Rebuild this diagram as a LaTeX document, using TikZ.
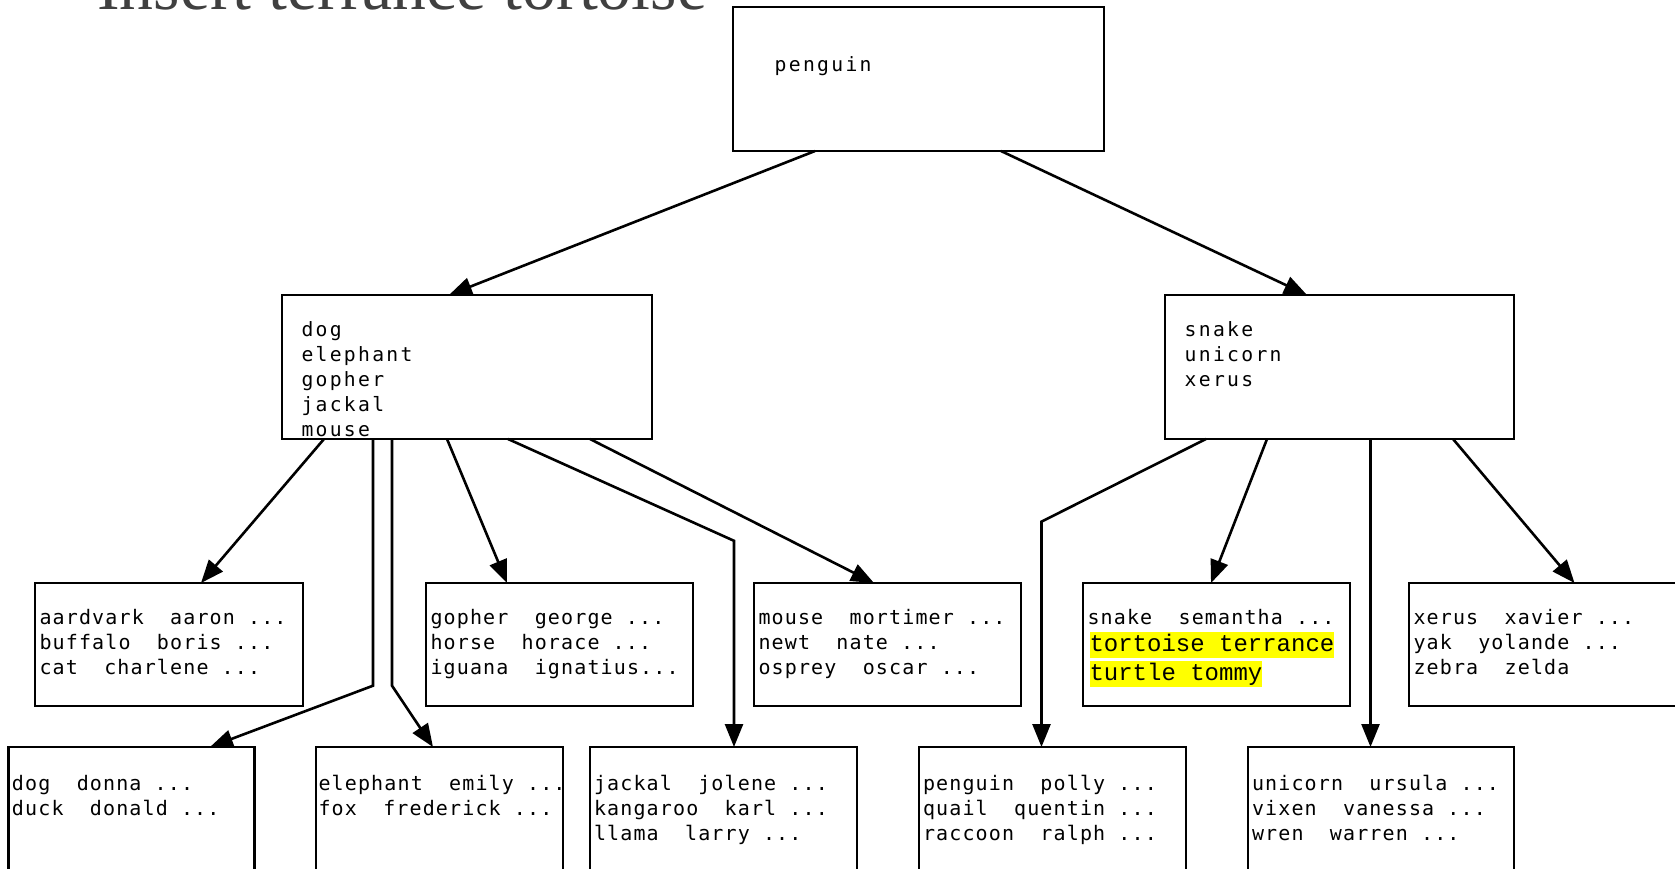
\documentclass[tikz,border=0pt]{standalone}
\usepackage{fontspec}
\usetikzlibrary{arrows.meta}

% Fonts: serif heading, letter-spaced sans mono for keys, Courier-like mono for the new entries
\newfontfamily\headfont{Liberation Serif}
\newfontfamily\innerkeyfont[LetterSpace=11.7]{DejaVu Sans Mono}
\newfontfamily\leafkeyfont[LetterSpace=5.7]{DejaVu Sans Mono}
\newfontfamily\markfont{Liberation Mono}

\definecolor{markyellow}{RGB}{255,255,0}
\definecolor{headgray}{RGB}{64,64,64}

% one empty character cell of the leaf font
\newcommand\onecell{\hspace*{13.18pt}}
% a left-aligned column of lines whose baseline is the first line
\newcommand\keylist[1]{\begin{tabular}[t]{@{}l@{}}#1\end{tabular}}
% a highlighted entry
\newcommand\marked[1]{\hspace*{2pt}{\setlength\fboxsep{0pt}\colorbox{markyellow}{\markfont\fontsize{24}{26}\selectfont\rule[-6.6pt]{0pt}{26pt}#1}}}

\tikzset{
  keybox/.style={draw, line width=2.6pt, anchor=north west, inner sep=0pt, outer sep=0pt},
  innertext/.style={anchor=base west, inner sep=0pt, outer sep=0pt,
    font=\innerkeyfont\fontsize{19.7}{25}\selectfont},
  leaftext/.style={anchor=base west, inner sep=0pt, outer sep=0pt,
    font=\leafkeyfont\fontsize{20}{25}\selectfont},
  link/.style={line width=2.6pt, line join=miter, -{Triangle[length=23pt,width=18pt]}},
}

\begin{document}
\begin{tikzpicture}[x=1pt, y=-1pt]
  \useasboundingbox (0,0) rectangle (1675,868);
  \clip (0,0) rectangle (1675,868);

  % heading
  \node[anchor=base west, inner sep=0pt, text=headgray,
        font=\headfont\fontsize{67.8}{70}\selectfont] (heading) at (97,9) {Insert terrance tortoise};

  % root and inner nodes
  \node[keybox, minimum width=371pt, minimum height=144pt] (root) at (733,7) {};
  \node[keybox, minimum width=370pt, minimum height=144pt] (ml) at (282,295) {};
  \node[keybox, minimum width=349pt, minimum height=144pt] (mr) at (1165,295) {};

  % leaves, upper row
  \node[keybox, minimum width=268pt, minimum height=123pt] (A) at (35,583) {};
  \node[keybox, minimum width=267pt, minimum height=123pt] (G) at (426,583) {};
  \node[keybox, minimum width=267pt, minimum height=123pt] (M) at (754,583) {};
  \node[keybox, minimum width=267pt, minimum height=123pt] (S) at (1083,583) {};
  \node[keybox, minimum width=300pt, minimum height=123pt] (X) at (1409,583) {};

  % leaves, lower row
  \node[keybox, minimum width=246pt, minimum height=200pt] (D) at (8.5,747) {};
  \node[keybox, minimum width=247pt, minimum height=200pt] (E) at (316,747) {};
  \node[keybox, minimum width=267pt, minimum height=200pt] (J) at (590,747) {};
  \node[keybox, minimum width=267pt, minimum height=200pt] (P) at (919,747) {};
  \node[keybox, minimum width=266pt, minimum height=200pt] (U) at (1248,747) {};

  % keys of root and inner nodes
  \node[innertext] (root-keys) at ([xshift=41.7pt,yshift=-64pt]root.north west) {\keylist{penguin}};
  \node[innertext] (ml-keys) at ([xshift=19.5pt,yshift=-41pt]ml.north west)
    {\keylist{dog\\elephant\\gopher\\jackal\\mouse}};
  \node[innertext] (mr-keys) at ([xshift=19.7pt,yshift=-41.5pt]mr.north west)
    {\keylist{snake\\unicorn\\xerus}};

  % leaf entries
  \node[leaftext] (A-keys) at ([xshift=4.5pt,yshift=-41.3pt]A.north west)
    {\keylist{aardvark\onecell\onecell aaron\onecell...\\buffalo\onecell\onecell boris\onecell...\\cat\onecell\onecell charlene\onecell...}};
  \node[leaftext] (G-keys) at ([xshift=4.5pt,yshift=-41.3pt]G.north west)
    {\keylist{gopher\onecell\onecell george\onecell...\\horse\onecell\onecell horace\onecell...\\iguana\onecell\onecell ignatius...}};
  \node[leaftext] (M-keys) at ([xshift=4.5pt,yshift=-41.3pt]M.north west)
    {\keylist{mouse\onecell\onecell mortimer\onecell...\\newt\onecell\onecell nate\onecell...\\osprey\onecell\onecell oscar\onecell...}};
  \node[leaftext] (S-keys) at ([xshift=4.5pt,yshift=-41.3pt]S.north west)
    {\keylist{snake\onecell\onecell semantha\onecell...\\\marked{tortoise terrance}\\[2.5pt]\marked{turtle tommy}}};
  \node[leaftext] (X-keys) at ([xshift=4.5pt,yshift=-41.3pt]X.north west)
    {\keylist{xerus\onecell\onecell xavier\onecell...\\yak\onecell\onecell yolande\onecell...\\zebra\onecell\onecell zelda}};

  \node[leaftext] (D-keys) at ([xshift=3.5pt,yshift=-43pt]D.north west)
    {\keylist{dog\onecell\onecell donna\onecell...\\duck\onecell\onecell donald\onecell...}};
  \node[leaftext] (E-keys) at ([xshift=2.5pt,yshift=-43pt]E.north west)
    {\keylist{elephant\onecell\onecell emily\onecell...\\fox\onecell\onecell frederick\onecell...}};
  \node[leaftext] (J-keys) at ([xshift=4pt,yshift=-43pt]J.north west)
    {\keylist{jackal\onecell\onecell jolene\onecell...\\kangaroo\onecell\onecell karl\onecell...\\llama\onecell\onecell larry\onecell...}};
  \node[leaftext] (P-keys) at ([xshift=4pt,yshift=-43pt]P.north west)
    {\keylist{penguin\onecell\onecell polly\onecell...\\quail\onecell\onecell quentin\onecell...\\raccoon\onecell\onecell ralph\onecell...}};
  \node[leaftext] (U-keys) at ([xshift=4pt,yshift=-43pt]U.north west)
    {\keylist{unicorn\onecell\onecell ursula\onecell...\\vixen\onecell\onecell vanessa\onecell...\\wren\onecell\onecell warren\onecell...}};

  % pointers from the root
  \draw[link] ([xshift=82pt]root.south west) -- ([xshift=167pt]ml.north west);
  \draw[link] ([xshift=268pt]root.south west) -- ([xshift=142pt]mr.north west);

  % pointers from the left inner node
  \draw[link] ([xshift=42pt]ml.south west) -- ([xshift=166pt]A.north west);
  \draw[link] ([xshift=91pt]ml.south west) -- ([xshift=91pt,yshift=-246.7pt]ml.south west)
              -- ([xshift=201.5pt]D.north west);
  \draw[link] ([xshift=110pt]ml.south west) -- ([xshift=110pt,yshift=-246.7pt]ml.south west)
              -- ([xshift=117pt]E.north west);
  \draw[link] ([xshift=165pt]ml.south west) -- ([xshift=81pt]G.north west);
  \draw[link] ([xshift=226pt]ml.south west) -- ([xshift=144pt,yshift=206.2pt]J.north west)
              -- ([xshift=144pt]J.north west);
  \draw[link] ([xshift=308pt]ml.south west) -- ([xshift=120pt]M.north west);

  % pointers from the right inner node
  \draw[link] ([xshift=41pt]mr.south west) -- ([xshift=122.5pt,yshift=225.4pt]P.north west)
              -- ([xshift=122.5pt]P.north west);
  \draw[link] ([xshift=102pt]mr.south west) -- ([xshift=128pt]S.north west);
  \draw[link] ([xshift=205.5pt]mr.south west) -- ([xshift=122.5pt]U.north west);
  \draw[link] ([xshift=288pt]mr.south west) -- ([xshift=165.5pt]X.north west);
\end{tikzpicture}
\end{document}
